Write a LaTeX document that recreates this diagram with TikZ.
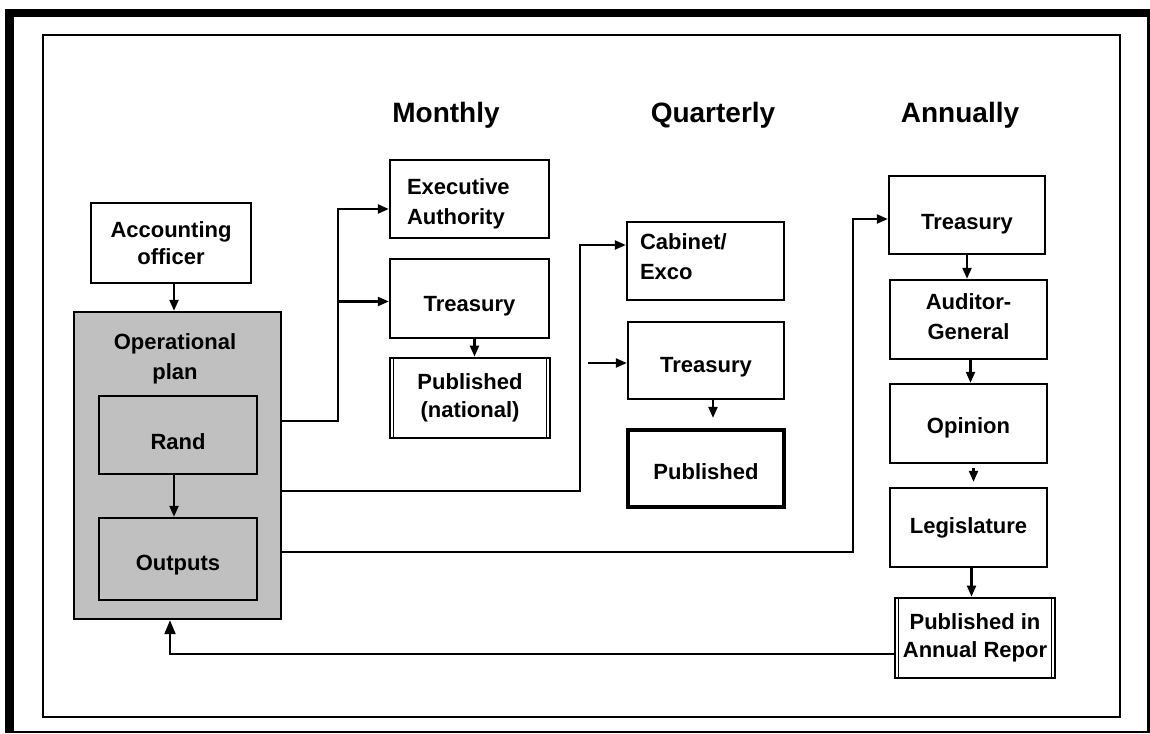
\documentclass[tikz,border=0pt]{standalone}
\usepackage{fontspec}
\setmainfont{Liberation Sans}
\usetikzlibrary{arrows.meta}
\definecolor{plangray}{RGB}{192,192,192}
\begin{document}
\begin{tikzpicture}[x=1pt,y=-1pt,
  every node/.style={font=\fontsize{22}{30}\selectfont\bfseries, inner sep=0pt},
  box/.style={draw, line width=2.4pt, align=center, fill=white},
  gbox/.style={draw, line width=2.4pt, align=center, fill=plangray},
  dbox/.style={draw, line width=2.8pt, align=center, fill=white},
  txt/.style={align=center},
  lower/.style={text height=#1, text depth=0pt},
  head/.style={font=\fontsize{28}{34}\selectfont\bfseries, anchor=base},
  arr/.style={line width=2.2pt, -{Triangle[length=11pt,width=9pt]}},
  arrbig/.style={line width=2.2pt, -{Triangle[length=14pt,width=11pt]}},
]
\useasboundingbox (0,0) rectangle (1150,733);
% frames
\draw[line width=9pt] (9.5,733) -- (9.5,9);
\draw[line width=8pt] (5,13) -- (1150,13);
\draw[line width=3pt] (1148.5,9) -- (1148.5,733);
\draw[line width=2pt] (5,732) -- (1150,732);
\draw[line width=2.2pt] (43,35) rectangle (1120,717);

% headings
\node[head] (hm) at (446,122) {Monthly};
\node[head] (hq) at (713,122) {Quarterly};
\node[head] (ha) at (960,122) {Annually};

% left column
\node[box, minimum width=160, minimum height=80, font=\fontsize{22}{27}\selectfont\bfseries] (ao) at (171,243) {Accounting\\officer};
\node[gbox, minimum width=207, minimum height=307] (op) at (177.5,465.5) {};
\node[txt] (opt) at (175,359) {Operational\\plan};
\node[gbox, minimum width=158, minimum height=78, lower=29.75pt] (rand) at (178,435) {Rand};
\node[gbox, minimum width=158, minimum height=82, lower=23pt] (out) at (178,559) {Outputs};

% monthly
\node[box, minimum width=159, minimum height=78, text width=125, align=left] (ea) at (469.5,199) {\rule{0pt}{26pt}Executive\\Authority};
\node[box, minimum width=159, minimum height=79, lower=25pt] (tm) at (469.5,298.5) {Treasury};
\node[dbox, minimum width=160, minimum height=80, font=\fontsize{22}{28}\selectfont\bfseries] (pn) at (470,398) {Published\\(national)};

% quarterly
\node[box, minimum width=157, minimum height=78, text width=131, align=left] (ce) at (705.5,261) {Cabinet/\\Exco\rule[-8pt]{0pt}{8pt}};
\node[box, minimum width=156, minimum height=77, lower=23pt] (tq) at (706,360.5) {Treasury};
\node[box, line width=4.2pt, minimum width=156, minimum height=77, lower=21pt] (pq) at (706,468.5) {Published};

% annually
\node[box, minimum width=156, minimum height=78, lower=29pt] (ta) at (967,215) {Treasury};
\node[box, minimum width=157, minimum height=79] (ag) at (968.5,319.5) {Auditor-\\General\rule[-6pt]{0pt}{6pt}};
\node[box, minimum width=157, minimum height=79, lower=19pt] (opn) at (968.5,423.5) {Opinion};
\node[box, minimum width=157, minimum height=79] (leg) at (968.5,527.5) {Legislature};
\node[dbox, minimum width=160, minimum height=80, font=\fontsize{22}{28}\selectfont\bfseries] (par) at (975,638) {Published in\\Annual Repor};

% inner lines of double borders
\foreach \n in {pn,par}{
  \draw[line width=1pt] ([xshift=5pt,yshift=-2pt]\n.north west) -- ([xshift=5pt,yshift=2pt]\n.south west);
  \draw[line width=1pt] ([xshift=-5pt,yshift=-2pt]\n.north east) -- ([xshift=-5pt,yshift=2pt]\n.south east);
}

% left connectors
\coordinate (aoout) at ([xshift=3pt]ao.south);
\draw[arr] (aoout) -- (aoout |- op.north);
\coordinate (randout) at ([xshift=-4pt]rand.south);
\draw[arr] (randout) -- (randout |- out.north);

% monthly connectors
\coordinate (m1) at (338,421);
\coordinate (eain) at ([yshift=-10pt]ea.west);
\coordinate (tmin) at ([yshift=-3pt]tm.west);
\draw[arr] (op.east |- m1) -- (m1) |- (eain);
\draw[arr] (tmin -| m1) -- (tmin);
\coordinate (tmout) at ([xshift=5pt]tm.south);
\draw[arr] (tmout) -- (tmout |- pn.north);

% quarterly connectors
\coordinate (q1) at (580,491);
\coordinate (cein) at ([yshift=16pt]ce.west);
\draw[arr] (op.east |- q1) -- (q1) |- (cein);
\coordinate (qa) at (588,363);
\draw[arr] (qa) -- (qa -| tq.west);
\coordinate (tqout) at ([xshift=7pt]tq.south);
\coordinate (pqin) at ([xshift=7pt,yshift=10pt]pq.north);
\draw[arr] (tqout) -- (pqin);

% annual connectors
\coordinate (a1) at (853,552);
\coordinate (tain) at ([yshift=-4pt]ta.west);
\draw[arr] (op.east |- a1) -- (a1) |- (tain);
\draw[arr] (ta.south) -- (ta.south |- ag.north);
\coordinate (agout) at ([xshift=2pt]ag.south);
\draw[arr] (agout) -- (agout |- opn.north);
\coordinate (opnout) at ([xshift=5pt,yshift=-4pt]opn.south);
\coordinate (legin) at ([xshift=5pt,yshift=5pt]leg.north);
\draw[arr] (opnout) -- (legin);
\coordinate (legout) at ([xshift=3pt]leg.south);
\draw[arr] (legout) -- (legout |- par.north);

% feedback
\coordinate (parout) at ([yshift=-16pt]par.west);
\coordinate (fb) at (170,654);
\draw[arrbig] (parout) -| (fb |- op.south);
\end{tikzpicture}
\end{document}
